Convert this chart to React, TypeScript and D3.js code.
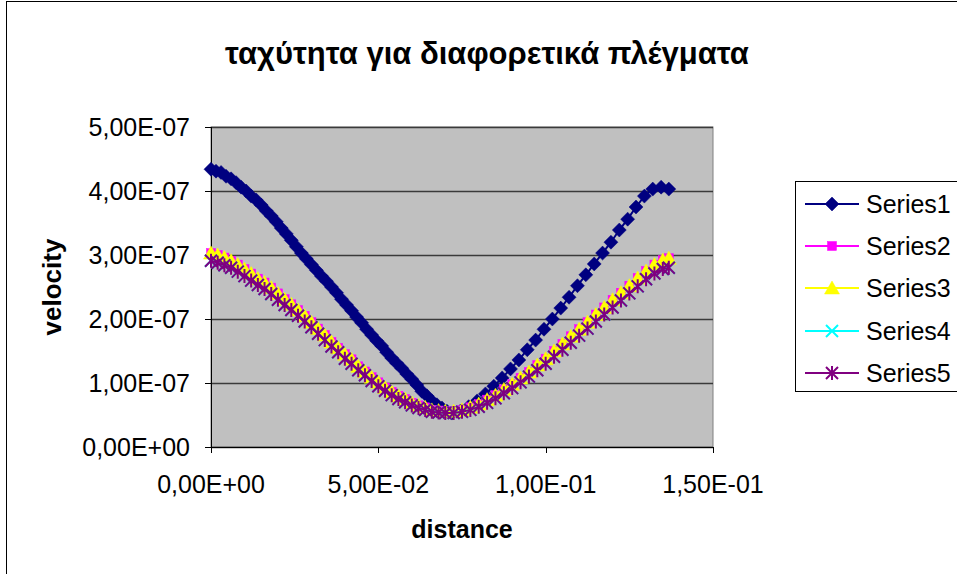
import React from 'react';
import * as d3 from 'd3';

const chartTitle = 'ταχύτητα για διαφορετικά πλέγματα';
const xAxisTitle = 'distance';
const yAxisTitle = 'velocity';
const seriesNames = ['Series1', 'Series2', 'Series3', 'Series4', 'Series5'];
const seriesColors = ['#000080', '#FF00FF', '#FFFF00', '#00FFFF', '#800080'];
const seriesMarkers = ['diamond', 'square', 'triangle', 'x', 'asterisk'];
const xTicks = [0, 0.05, 0.1, 0.15];
const yTicks = [0, 1e-7, 2e-7, 3e-7, 4e-7, 5e-7];

const series1X = [
  0, 0.0015, 0.003, 0.0045, 0.006, 0.0075, 0.009, 0.0105, 0.012, 0.0135, 0.015, 0.0165,
  0.018, 0.0195, 0.021, 0.0225, 0.024, 0.0255, 0.027, 0.0285, 0.03, 0.0315, 0.033, 0.0345,
  0.036, 0.0375, 0.039, 0.0405, 0.042, 0.0435, 0.045, 0.0465, 0.048, 0.0495, 0.051, 0.0525,
  0.054, 0.0555, 0.057, 0.0585, 0.06, 0.0615, 0.063, 0.0645, 0.066, 0.0675, 0.069, 0.0705,
  0.072, 0.0745, 0.077, 0.0795, 0.082, 0.0845, 0.087, 0.0895, 0.092, 0.0945, 0.097, 0.0995,
  0.102, 0.1045, 0.107, 0.1095, 0.112, 0.1145, 0.117, 0.1195, 0.122, 0.1245, 0.127, 0.1295,
  0.132, 0.1345, 0.1368,
];
const series1Y = [
  4.34e-7, 4.31e-7, 4.29e-7, 4.23e-7, 4.19e-7, 4.13e-7, 4.06e-7, 4.0e-7, 3.92e-7, 3.86e-7, 3.78e-7, 3.69e-7,
  3.61e-7, 3.52e-7, 3.42e-7, 3.33e-7, 3.23e-7, 3.13e-7, 3.03e-7, 2.94e-7, 2.85e-7, 2.76e-7, 2.67e-7, 2.59e-7,
  2.5e-7, 2.41e-7, 2.31e-7, 2.22e-7, 2.13e-7, 2.03e-7, 1.94e-7, 1.84e-7, 1.75e-7, 1.66e-7, 1.58e-7, 1.48e-7,
  1.39e-7, 1.31e-7, 1.23e-7, 1.14e-7, 1.06e-7, 0.97e-7, 0.87e-7, 0.8e-7, 0.72e-7, 0.66e-7, 0.61e-7, 0.56e-7,
  0.53e-7, 0.56e-7, 0.63e-7, 0.72e-7, 0.83e-7, 0.95e-7, 1.08e-7, 1.22e-7, 1.36e-7, 1.52e-7, 1.67e-7, 1.84e-7,
  2.0e-7, 2.17e-7, 2.34e-7, 2.52e-7, 2.69e-7, 2.86e-7, 3.03e-7, 3.2e-7, 3.39e-7, 3.56e-7, 3.75e-7, 3.92e-7,
  4.03e-7, 4.06e-7, 4.03e-7,
];

const gridX = [
  0, 0.002, 0.004, 0.006, 0.008, 0.01, 0.012, 0.014, 0.016, 0.018, 0.02, 0.022,
  0.024, 0.026, 0.028, 0.03, 0.032, 0.034, 0.036, 0.038, 0.04, 0.042, 0.044, 0.046,
  0.048, 0.05, 0.052, 0.054, 0.056, 0.058, 0.06, 0.062, 0.064, 0.066, 0.068, 0.07,
  0.0725, 0.075, 0.0775, 0.08, 0.0825, 0.085, 0.0875, 0.09, 0.0925, 0.095, 0.0975, 0.1,
  0.1025, 0.105, 0.1075, 0.11, 0.1125, 0.115, 0.1175, 0.12, 0.1225, 0.125, 0.1275, 0.13,
  0.1325, 0.135, 0.1368,
];
const series2Y = [
  3.03e-7, 3.0e-7, 2.96e-7, 2.91e-7, 2.85e-7, 2.78e-7, 2.71e-7, 2.63e-7, 2.57e-7, 2.49e-7, 2.4e-7, 2.31e-7,
  2.23e-7, 2.14e-7, 2.05e-7, 1.95e-7, 1.85e-7, 1.75e-7, 1.64e-7, 1.55e-7, 1.45e-7, 1.37e-7, 1.26e-7, 1.18e-7,
  1.09e-7, 1.01e-7, 0.93e-7, 0.86e-7, 0.8e-7, 0.75e-7, 0.69e-7, 0.65e-7, 0.62e-7, 0.58e-7, 0.57e-7, 0.56e-7,
  0.56e-7, 0.58e-7, 0.62e-7, 0.67e-7, 0.74e-7, 0.81e-7, 0.9e-7, 0.98e-7, 1.08e-7, 1.17e-7, 1.28e-7, 1.38e-7,
  1.5e-7, 1.61e-7, 1.73e-7, 1.84e-7, 1.95e-7, 2.07e-7, 2.18e-7, 2.3e-7, 2.41e-7, 2.52e-7, 2.64e-7, 2.75e-7,
  2.85e-7, 2.92e-7, 2.95e-7,
];
const series3Y = [
  3.03e-7, 3.0e-7, 2.96e-7, 2.91e-7, 2.85e-7, 2.78e-7, 2.71e-7, 2.63e-7, 2.57e-7, 2.49e-7, 2.4e-7, 2.31e-7,
  2.23e-7, 2.14e-7, 2.05e-7, 1.95e-7, 1.85e-7, 1.75e-7, 1.64e-7, 1.55e-7, 1.45e-7, 1.37e-7, 1.26e-7, 1.18e-7,
  1.09e-7, 1.01e-7, 0.93e-7, 0.86e-7, 0.8e-7, 0.75e-7, 0.69e-7, 0.65e-7, 0.62e-7, 0.58e-7, 0.57e-7, 0.56e-7,
  0.56e-7, 0.58e-7, 0.62e-7, 0.67e-7, 0.74e-7, 0.81e-7, 0.9e-7, 0.98e-7, 1.08e-7, 1.17e-7, 1.28e-7, 1.38e-7,
  1.5e-7, 1.61e-7, 1.73e-7, 1.84e-7, 1.95e-7, 2.07e-7, 2.18e-7, 2.3e-7, 2.41e-7, 2.52e-7, 2.64e-7, 2.75e-7,
  2.85e-7, 2.92e-7, 2.95e-7,
];
const series4Y = [
  2.91e-7, 2.88e-7, 2.84e-7, 2.8e-7, 2.74e-7, 2.67e-7, 2.6e-7, 2.53e-7, 2.47e-7, 2.39e-7, 2.3e-7, 2.22e-7,
  2.14e-7, 2.05e-7, 1.96e-7, 1.87e-7, 1.77e-7, 1.67e-7, 1.57e-7, 1.48e-7, 1.38e-7, 1.3e-7, 1.2e-7, 1.12e-7,
  1.03e-7, 0.95e-7, 0.88e-7, 0.81e-7, 0.75e-7, 0.7e-7, 0.65e-7, 0.61e-7, 0.58e-7, 0.55e-7, 0.54e-7, 0.53e-7,
  0.53e-7, 0.55e-7, 0.58e-7, 0.63e-7, 0.69e-7, 0.76e-7, 0.84e-7, 0.92e-7, 1.01e-7, 1.1e-7, 1.2e-7, 1.3e-7,
  1.41e-7, 1.52e-7, 1.63e-7, 1.74e-7, 1.85e-7, 1.96e-7, 2.07e-7, 2.18e-7, 2.29e-7, 2.4e-7, 2.51e-7, 2.62e-7,
  2.71e-7, 2.78e-7, 2.8e-7,
];
const series5Y = [
  2.91e-7, 2.88e-7, 2.84e-7, 2.8e-7, 2.74e-7, 2.67e-7, 2.6e-7, 2.53e-7, 2.47e-7, 2.39e-7, 2.3e-7, 2.22e-7,
  2.14e-7, 2.05e-7, 1.96e-7, 1.87e-7, 1.77e-7, 1.67e-7, 1.57e-7, 1.48e-7, 1.38e-7, 1.3e-7, 1.2e-7, 1.12e-7,
  1.03e-7, 0.95e-7, 0.88e-7, 0.81e-7, 0.75e-7, 0.7e-7, 0.65e-7, 0.61e-7, 0.58e-7, 0.55e-7, 0.54e-7, 0.53e-7,
  0.53e-7, 0.55e-7, 0.58e-7, 0.63e-7, 0.69e-7, 0.76e-7, 0.84e-7, 0.92e-7, 1.01e-7, 1.1e-7, 1.2e-7, 1.3e-7,
  1.41e-7, 1.52e-7, 1.63e-7, 1.74e-7, 1.85e-7, 1.96e-7, 2.07e-7, 2.18e-7, 2.29e-7, 2.4e-7, 2.51e-7, 2.62e-7,
  2.71e-7, 2.78e-7, 2.8e-7,
];

const W = 957;
const H = 574;
const FONT = '"Liberation Sans", Arial, sans-serif';
const plot = { left: 211, right: 713, top: 127, bottom: 447 };

function fmtExp(v: number): string {
  const s = v.toExponential(2);
  const [mant, exp] = s.split('e');
  const sign = exp.startsWith('-') ? '-' : '+';
  const digits = exp.replace(/[+-]/, '').padStart(2, '0');
  return mant.replace('.', ',') + 'E' + sign + digits;
}

function Marker({ type, cx, cy, color }: { type: string; cx: number; cy: number; color: string }) {
  if (type === 'diamond') {
    const r = 7;
    return <path d={`M${cx},${cy - r}L${cx + r},${cy}L${cx},${cy + r}L${cx - r},${cy}Z`} fill={color} stroke={color} strokeWidth={0.5} />;
  }
  if (type === 'square') {
    const s = 4.5;
    return <rect x={cx - s} y={cy - s} width={2 * s} height={2 * s} fill={color} stroke={color} strokeWidth={0.5} />;
  }
  if (type === 'triangle') {
    return <path d={`M${cx},${cy - 7}L${cx + 7.5},${cy + 6}L${cx - 7.5},${cy + 6}Z`} fill={color} stroke={color} strokeWidth={0.5} />;
  }
  if (type === 'x') {
    const r = 6;
    return <path d={`M${cx - r},${cy - r}L${cx + r},${cy + r}M${cx - r},${cy + r}L${cx + r},${cy - r}`} stroke={color} strokeWidth={2} fill="none" />;
  }
  const r = 6;
  return (
    <path
      d={`M${cx - r},${cy - r}L${cx + r},${cy + r}M${cx - r},${cy + r}L${cx + r},${cy - r}M${cx},${cy - r - 1}L${cx},${cy + r + 1}`}
      stroke={color}
      strokeWidth={2}
      fill="none"
    />
  );
}

export default function App() {
  const x = d3.scaleLinear().domain([0, 0.15]).range([plot.left, plot.right]);
  const y = d3.scaleLinear().domain([0, 5e-7]).range([plot.bottom, plot.top]);

  const seriesData = [
    { xs: series1X, ys: series1Y },
    { xs: gridX, ys: series2Y },
    { xs: gridX, ys: series3Y },
    { xs: gridX, ys: series4Y },
    { xs: gridX, ys: series5Y },
  ];

  const line = d3
    .line<[number, number]>()
    .x((d) => x(d[0]))
    .y((d) => y(d[1]));

  const legendX = 795;
  const legendY = 181;
  const legendRowY = [204, 246, 288, 331, 373];

  return (
    <svg width={W} height={H} style={{ position: 'absolute', left: 0, top: 0, background: '#fff' }} fontFamily={FONT}>
      <rect x={0} y={0} width={W} height={H} fill="#fff" />
      <rect x={6.5} y={1.5} width={W + 10} height={H + 10} fill="#fff" stroke="#000" strokeWidth={1} />

      <text x={487} y={64} textAnchor="middle" fontSize={31} fontWeight="bold" fill="#000">
        {chartTitle}
      </text>

      <rect x={plot.left} y={plot.top} width={plot.right - plot.left} height={plot.bottom - plot.top} fill="#C0C0C0" stroke="#808080" strokeWidth={1} />

      {yTicks.map((t) => (
        <line key={'g' + t} x1={plot.left} x2={plot.right} y1={Math.round(y(t)) + 0.5} y2={Math.round(y(t)) + 0.5} stroke="#3a3a3a" strokeWidth={1.3} />
      ))}

      <line x1={plot.left + 0.5} x2={plot.left + 0.5} y1={plot.top} y2={plot.bottom} stroke="#000" strokeWidth={1} />
      <line x1={plot.left} x2={plot.right} y1={plot.bottom + 0.5} y2={plot.bottom + 0.5} stroke="#000" strokeWidth={1} />

      {yTicks.map((t) => (
        <g key={'yt' + t}>
          <line x1={plot.left - 6} x2={plot.left} y1={Math.round(y(t)) + 0.5} y2={Math.round(y(t)) + 0.5} stroke="#000" />
          <text x={190} y={y(t) + 9} textAnchor="end" fontSize={25} fill="#000">
            {fmtExp(t)}
          </text>
        </g>
      ))}
      {xTicks.map((t) => (
        <g key={'xt' + t}>
          <line x1={Math.round(x(t)) + 0.5} x2={Math.round(x(t)) + 0.5} y1={plot.bottom} y2={plot.bottom + 6} stroke="#000" />
          <text x={x(t)} y={493} textAnchor="middle" fontSize={25} fill="#000">
            {fmtExp(t)}
          </text>
        </g>
      ))}

      <text x={462} y={538} textAnchor="middle" fontSize={25} fontWeight="bold" fill="#000">
        {xAxisTitle}
      </text>
      <text transform={`translate(61,${(plot.top + plot.bottom) / 2}) rotate(-90)`} textAnchor="middle" fontSize={26} fontWeight="bold" fill="#000">
        {yAxisTitle}
      </text>

      {seriesData.map((s, i) => {
        const pts = s.xs.map((xv, j) => [xv, s.ys[j]] as [number, number]);
        return (
          <g key={'s' + i}>
            <path d={line(pts) || ''} fill="none" stroke={seriesColors[i]} strokeWidth={2} />
            {pts.map((p, j) => (
              <Marker key={j} type={seriesMarkers[i]} cx={x(p[0])} cy={y(p[1])} color={seriesColors[i]} />
            ))}
          </g>
        );
      })}

      <rect x={legendX + 0.5} y={legendY + 0.5} width={200} height={210} fill="#fff" stroke="#000" strokeWidth={1} />
      {seriesNames.map((name, i) => (
        <g key={'l' + i}>
          <line x1={805} x2={859} y1={legendRowY[i]} y2={legendRowY[i]} stroke={seriesColors[i]} strokeWidth={2} />
          <Marker type={seriesMarkers[i]} cx={832} cy={legendRowY[i]} color={seriesColors[i]} />
          <text x={866} y={legendRowY[i] + 9} fontSize={25} fill="#000">
            {name}
          </text>
        </g>
      ))}
    </svg>
  );
}
